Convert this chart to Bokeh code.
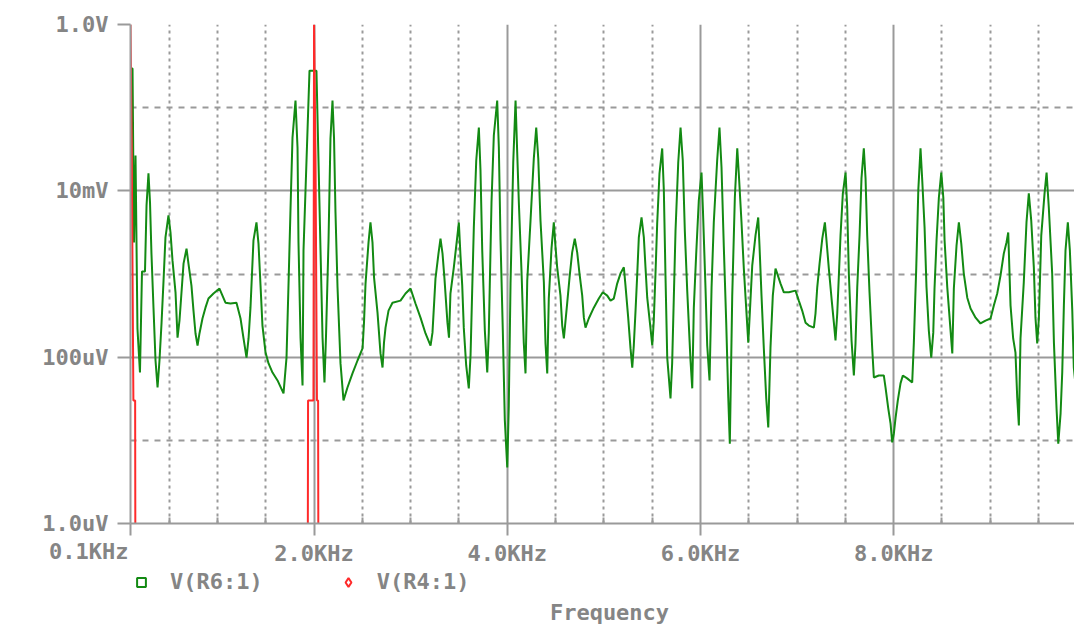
import numpy as np
from bokeh.plotting import figure
from bokeh.layouts import column
from bokeh.models import (FixedTicker, Range1d, Legend, LegendItem, Label,
                          LinearAxis)
from bokeh.core.properties import value
from bokeh.embed import file_html
from bokeh.resources import INLINE

# ---- data: V(R6:1) spectrum (frequency in kHz, magnitude in dBV) ----
freq_r6_khz = [
    0.100, 0.121, 0.136, 0.152, 0.172, 0.198, 0.219, 0.250, 0.266, 0.286,
    0.302, 0.317, 0.338, 0.359, 0.380, 0.400, 0.421, 0.442, 0.462, 0.493,
    0.514, 0.535, 0.566, 0.587, 0.607, 0.628, 0.649, 0.680, 0.700, 0.731,
    0.752, 0.773, 0.794, 0.814, 0.845, 0.876, 0.907, 0.959, 1.021, 1.083,
    1.135, 1.197, 1.239, 1.270, 1.301, 1.322, 1.342, 1.373, 1.404, 1.425,
    1.446, 1.466, 1.498, 1.529, 1.570, 1.622, 1.684, 1.715, 1.736, 1.756,
    1.777, 1.808, 1.829, 1.839, 1.860, 1.881, 1.891, 1.922, 1.953, 2.025,
    2.046, 2.067, 2.088, 2.108, 2.124, 2.150, 2.170, 2.191, 2.207, 2.222,
    2.243, 2.274, 2.305, 2.346, 2.398, 2.450, 2.502, 2.517, 2.533, 2.564,
    2.584, 2.605, 2.621, 2.657, 2.688, 2.709, 2.724, 2.740, 2.771, 2.812,
    2.895, 2.947, 2.999, 3.050, 3.102, 3.154, 3.206, 3.226, 3.257, 3.288,
    3.309, 3.330, 3.350, 3.381, 3.397, 3.412, 3.447, 3.482, 3.499, 3.516,
    3.534, 3.550, 3.575, 3.602, 3.620, 3.637, 3.654, 3.679, 3.706, 3.723,
    3.741, 3.768, 3.793, 3.809, 3.837, 3.861, 3.896, 3.913, 3.930, 3.954,
    3.975, 4.000, 4.016, 4.034, 4.062, 4.086, 4.103, 4.120, 4.148, 4.171,
    4.189, 4.207, 4.241, 4.275, 4.300, 4.321, 4.344, 4.379, 4.396, 4.414,
    4.430, 4.458, 4.482, 4.500, 4.517, 4.551, 4.569, 4.586, 4.621, 4.645,
    4.672, 4.699, 4.724, 4.748, 4.776, 4.793, 4.810, 4.844, 4.896, 4.948,
    4.989, 5.035, 5.069, 5.103, 5.138, 5.172, 5.207, 5.224, 5.252, 5.276,
    5.294, 5.310, 5.328, 5.345, 5.362, 5.390, 5.414, 5.431, 5.449, 5.483,
    5.501, 5.517, 5.535, 5.552, 5.576, 5.604, 5.621, 5.638, 5.656, 5.690,
    5.707, 5.724, 5.742, 5.770, 5.794, 5.817, 5.838, 5.863, 5.897, 5.915,
    5.931, 5.956, 5.983, 6.011, 6.025, 6.052, 6.070, 6.094, 6.115, 6.138,
    6.173, 6.197, 6.218, 6.242, 6.267, 6.288, 6.304, 6.329, 6.356, 6.381,
    6.398, 6.425, 6.449, 6.467, 6.495, 6.508, 6.536, 6.570, 6.598, 6.611,
    6.632, 6.656, 6.681, 6.702, 6.725, 6.749, 6.777, 6.795, 6.829, 6.863,
    6.915, 6.984, 7.018, 7.053, 7.088, 7.122, 7.174, 7.191, 7.209, 7.233,
    7.261, 7.288, 7.302, 7.329, 7.357, 7.381, 7.398, 7.416, 7.432, 7.450,
    7.474, 7.502, 7.519, 7.536, 7.564, 7.588, 7.605, 7.623, 7.647, 7.667,
    7.691, 7.709, 7.726, 7.750, 7.778, 7.795, 7.846, 7.898, 7.916, 7.944,
    7.968, 7.985, 8.002, 8.019, 8.043, 8.071, 8.095, 8.140, 8.192, 8.209,
    8.234, 8.255, 8.278, 8.296, 8.320, 8.340, 8.364, 8.389, 8.410, 8.423,
    8.444, 8.468, 8.493, 8.514, 8.527, 8.555, 8.589, 8.607, 8.623, 8.651,
    8.675, 8.700, 8.726, 8.762, 8.796, 8.848, 8.899, 8.951, 9.003, 9.037,
    9.072, 9.106, 9.140, 9.168, 9.186, 9.210, 9.237, 9.261, 9.279, 9.296,
    9.313, 9.347, 9.375, 9.399, 9.424, 9.451, 9.468, 9.486, 9.503, 9.528,
    9.562, 9.583, 9.606, 9.641, 9.659, 9.686, 9.704, 9.728, 9.745, 9.762,
    9.779, 9.803, 9.824, 9.849, 9.865, 9.893,
]
mag_r6_dbv = [
    -10.6, -10.6, -52.4, -31.5, -73.1, -83.7, -59.4, -59.4, -43.5, -35.8,
    -42.8, -55.1, -68.1, -80.8, -87.3, -80.8, -71.9, -61.6, -51.2, -45.9,
    -50.0, -56.8, -64.4, -75.3, -71.2, -64.4, -57.5, -53.9, -57.5, -62.8,
    -68.8, -74.3, -77.2, -74.3, -70.7, -68.1, -65.9, -64.7, -63.5, -66.9,
    -67.1, -66.9, -70.7, -75.5, -80.1, -75.5, -68.1, -51.9, -47.6, -52.7,
    -62.8, -72.4, -78.9, -81.5, -83.7, -85.6, -88.7, -80.1, -62.3, -44.7,
    -27.2, -18.3, -29.6, -52.4, -75.3, -86.8, -54.3, -32.7, -11.1, -11.1,
    -32.7, -54.3, -75.3, -86.1, -74.8, -51.9, -27.4, -18.3, -27.4, -45.2,
    -63.2, -81.5, -90.4, -87.3, -83.9, -80.8, -77.9, -71.7, -62.3, -52.4,
    -47.6, -52.4, -60.8, -69.3, -79.1, -82.5, -76.5, -72.9, -68.8, -66.9,
    -66.4, -64.7, -63.5, -67.1, -70.5, -74.3, -77.2, -74.1, -61.1, -55.1,
    -51.5, -55.1, -61.1, -71.7, -75.3, -64.7, -58.4, -51.2, -47.6, -55.6,
    -62.8, -72.9, -82.0, -87.5, -79.6, -64.0, -48.8, -32.7, -24.8, -35.1,
    -54.3, -73.6, -83.7, -74.1, -42.8, -26.7, -18.3, -29.6, -51.5, -73.6,
    -95.2, -106.5, -91.6, -62.3, -33.2, -18.3, -30.8, -42.8, -59.6, -76.5,
    -83.9, -61.6, -47.1, -32.2, -24.8, -32.2, -47.1, -62.0, -76.7, -83.9,
    -65.9, -53.9, -47.6, -53.6, -58.4, -65.2, -72.4, -75.5, -66.9, -60.8,
    -54.8, -51.5, -54.8, -59.9, -65.2, -70.5, -72.9, -70.7, -68.1, -65.9,
    -64.4, -65.2, -66.4, -65.9, -62.3, -59.9, -58.4, -62.8, -70.5, -77.9,
    -82.5, -77.2, -68.8, -60.4, -51.2, -46.4, -51.2, -58.4, -65.7, -73.1,
    -77.2, -71.2, -59.6, -47.9, -35.8, -29.8, -39.9, -60.4, -80.1, -89.9,
    -81.5, -65.9, -49.5, -33.2, -24.8, -32.7, -49.5, -64.0, -80.8, -87.5,
    -68.3, -55.1, -42.3, -35.6, -44.2, -63.2, -77.2, -85.6, -63.2, -47.6,
    -32.7, -24.8, -34.4, -53.6, -71.9, -89.7, -100.8, -65.2, -41.6, -29.8,
    -36.3, -47.6, -58.7, -65.7, -76.5, -70.7, -58.0, -50.7, -46.4, -53.1,
    -65.2, -77.9, -89.9, -96.9, -77.7, -65.2, -58.7, -59.9, -62.3, -64.4,
    -64.4, -64.0, -66.4, -68.8, -71.7, -72.4, -72.9, -69.5, -63.2, -57.5,
    -51.5, -47.6, -51.2, -58.7, -65.9, -71.7, -76.0, -69.5, -60.8, -50.7,
    -40.6, -35.6, -44.0, -59.9, -76.0, -84.4, -76.7, -63.2, -50.7, -37.0,
    -29.8, -37.0, -50.7, -64.4, -77.9, -84.9, -84.4, -84.4, -87.3, -92.3,
    -96.0, -100.5, -98.4, -94.7, -90.4, -86.3, -84.4, -85.1, -86.1, -76.5,
    -58.4, -39.9, -29.8, -37.5, -48.8, -63.2, -73.6, -80.1, -74.1, -63.5,
    -51.9, -41.6, -35.6, -41.6, -51.9, -63.2, -73.6, -79.1, -63.5, -53.1,
    -47.6, -52.7, -59.9, -65.7, -68.3, -70.5, -71.9, -71.2, -70.7, -67.6,
    -64.7, -60.4, -55.1, -52.4, -50.0, -67.6, -75.5, -78.9, -89.7, -96.4,
    -75.5, -62.0, -47.6, -40.6, -47.1, -58.4, -70.5, -76.7, -70.7, -50.7,
    -40.6, -35.6, -44.0, -59.9, -76.5, -92.3, -100.8, -93.5, -83.7, -67.6,
    -54.3, -47.6, -54.3, -68.8, -82.5, -89.2,
]

# ---- data: V(R4:1) spectrum (two tones; far below the 1uV floor elsewhere) ----
freq_r4_khz = [0.100, 0.113, 0.130, 0.148, 0.155, 1.930, 1.938, 1.994,
               2.000, 2.015, 2.030, 2.042, 2.050, 9.900]
mag_r4_dbv = [0.0, -31.5, -90.4, -90.4, -200.0, -200.0, -90.4, -90.4,
              0.0, -31.5, -90.4, -90.4, -200.0, -200.0]

x_ticks = [0.1, 2.0, 4.0, 6.0, 8.0]
x_tick_labels = ["0.1KHz", "2.0KHz", "4.0KHz", "6.0KHz", "8.0KHz"]
x_minor_ticks = [0.5, 1.0, 1.5, 2.5, 3.0, 3.5, 4.5, 5.0, 5.5, 6.5, 7.0, 7.5,
                 8.5, 9.0, 9.5]
y_ticks = [1e-6, 1e-4, 1e-2, 1.0]
y_tick_labels = ["1.0uV", "100uV", "10mV", "1.0V"]
y_minor_ticks = [1e-5, 1e-3, 1e-1]
series_names = ["V(R6:1)", "V(R4:1)"]
x_axis_title = "Frequency"

# ---- layout / styling ----
FONT = "DejaVu Sans Mono"
TXT = "#858585"
GRID = "#9a9a9a"
GREEN = "#138a13"
RED = "#ff2a2a"
FS = "22px"
W = 1074
LEFT, TOP, FRAME_BOTTOM = 130, 24, 523
H1 = 538                 # plot figure height (frame + tick marks)
H2 = 627 - H1            # strip below: tick labels, legend, axis title
X0, X1 = 0.1, 9.872
px_per_khz = (W - LEFT) / (X1 - X0)

v_r6 = 10 ** (np.array(mag_r6_dbv) / 20.0)
v_r4 = 10 ** (np.array(mag_r4_dbv) / 20.0)

p = figure(width=W, height=H1,
           x_range=Range1d(X0, X1), y_range=Range1d(1e-6, 1.0),
           y_axis_type="log", output_backend="svg", toolbar_location=None,
           min_border_left=LEFT, min_border_right=0, min_border_top=TOP,
           min_border_bottom=H1 - FRAME_BOTTOM)
p.outline_line_color = None
p.background_fill_color = "white"

p.xaxis.ticker = FixedTicker(ticks=x_ticks, minor_ticks=x_minor_ticks)
p.yaxis.ticker = FixedTicker(ticks=y_ticks, minor_ticks=y_minor_ticks)
p.xaxis.major_label_overrides = {t: "" for t in x_ticks}
p.yaxis.major_label_overrides = {t: l for t, l in zip(y_ticks, y_tick_labels)}

for ax in (p.xaxis[0], p.yaxis[0]):
    ax.axis_line_color = GRID
    ax.axis_line_width = 2
    ax.major_tick_line_color = GRID
    ax.major_tick_line_width = 2
    ax.major_label_text_font = FONT
    ax.major_label_text_font_style = "bold"
    ax.major_label_text_color = TXT

p.xaxis.major_label_text_font_size = "1px"
p.xaxis.major_label_standoff = 0
p.xaxis.major_tick_out = 12
p.xaxis.major_tick_in = 0
p.xaxis.minor_tick_in = 6
p.xaxis.minor_tick_out = 0
p.xaxis.minor_tick_line_color = GRID
p.xaxis.minor_tick_line_width = 2

p.yaxis.major_label_text_font_size = FS
p.yaxis.major_tick_out = 13
p.yaxis.major_tick_in = 0
p.yaxis.minor_tick_line_color = None
p.yaxis.major_label_standoff = 9

p.xgrid.grid_line_color = GRID
p.xgrid.grid_line_width = 2
p.xgrid.minor_grid_line_color = GRID
p.xgrid.minor_grid_line_width = 2
p.xgrid.minor_grid_line_dash = "3 4"
p.ygrid.grid_line_color = GRID
p.ygrid.grid_line_width = 2
p.ygrid.minor_grid_line_color = GRID
p.ygrid.minor_grid_line_width = 2
p.ygrid.minor_grid_line_dash = "6 6"

p.line(freq_r6_khz, v_r6, line_color=GREEN, line_width=2)
p.line(freq_r4_khz, v_r4, line_color=RED, line_width=2)

# ---- strip below the plot: x tick labels, legend, axis title ----
# (its frame is aligned with the plot frame, so it shares the x scale)
q = figure(width=W, height=H2,
           x_range=p.x_range, y_range=Range1d(H2, 0),
           output_backend="svg", toolbar_location=None,
           x_axis_location=None, y_axis_location=None,
           min_border_left=LEFT, min_border_right=0, min_border_top=0,
           min_border_bottom=0)
q.outline_line_color = None
q.grid.visible = False

label_row = 553 - H1
txt = dict(text_font=value(FONT), text_font_style="bold",
           text_font_size=value(FS), text_color=TXT, text_baseline="middle")
q.text(x=x_ticks[1:], y=[label_row] * (len(x_ticks) - 1),
       text=x_tick_labels[1:], text_align="center", **txt)

# first tick label sits left of the origin: use a bare axis in the left margin
first = LinearAxis(ticker=FixedTicker(ticks=[label_row - 3]),
                   major_label_overrides={label_row - 3: x_tick_labels[0]},
                   axis_line_color=None, major_tick_line_color=None,
                   minor_tick_line_color=None, major_tick_out=0,
                   major_tick_in=0, major_label_standoff=2,
                   major_label_text_font=FONT,
                   major_label_text_font_style="bold",
                   major_label_text_font_size=FS,
                   major_label_text_color=TXT)
q.add_layout(first, "left")

sq = q.scatter([-50.0], [0.0], marker="square", fill_color="white",
               line_color=GREEN, line_width=2, size=8)
dm = q.scatter([-50.0], [0.0], marker="diamond", fill_color="white",
               line_color=RED, line_width=2, size=10)
legend = Legend(items=[LegendItem(label=series_names[0], renderers=[sq]),
                       LegendItem(label=series_names[1], renderers=[dm])],
                orientation="horizontal", location=(0, H2 - (581 - H1) - 13),
                border_line_color=None, background_fill_alpha=0,
                label_text_font=FONT, label_text_font_style="bold",
                label_text_font_size=FS, label_text_color=TXT,
                glyph_width=22, glyph_height=22, label_standoff=18,
                spacing=74, padding=2, margin=0)
q.add_layout(legend)

q.add_layout(Label(x=X0 + (609 - LEFT) / px_per_khz, y=612 - H1,
                   text=x_axis_title, text_align="center",
                   text_baseline="middle", text_font=FONT,
                   text_font_style="bold", text_font_size=FS,
                   text_color=TXT))

layout = column(p, q, spacing=0)
open("out.html", "w").write(file_html(layout, INLINE))
